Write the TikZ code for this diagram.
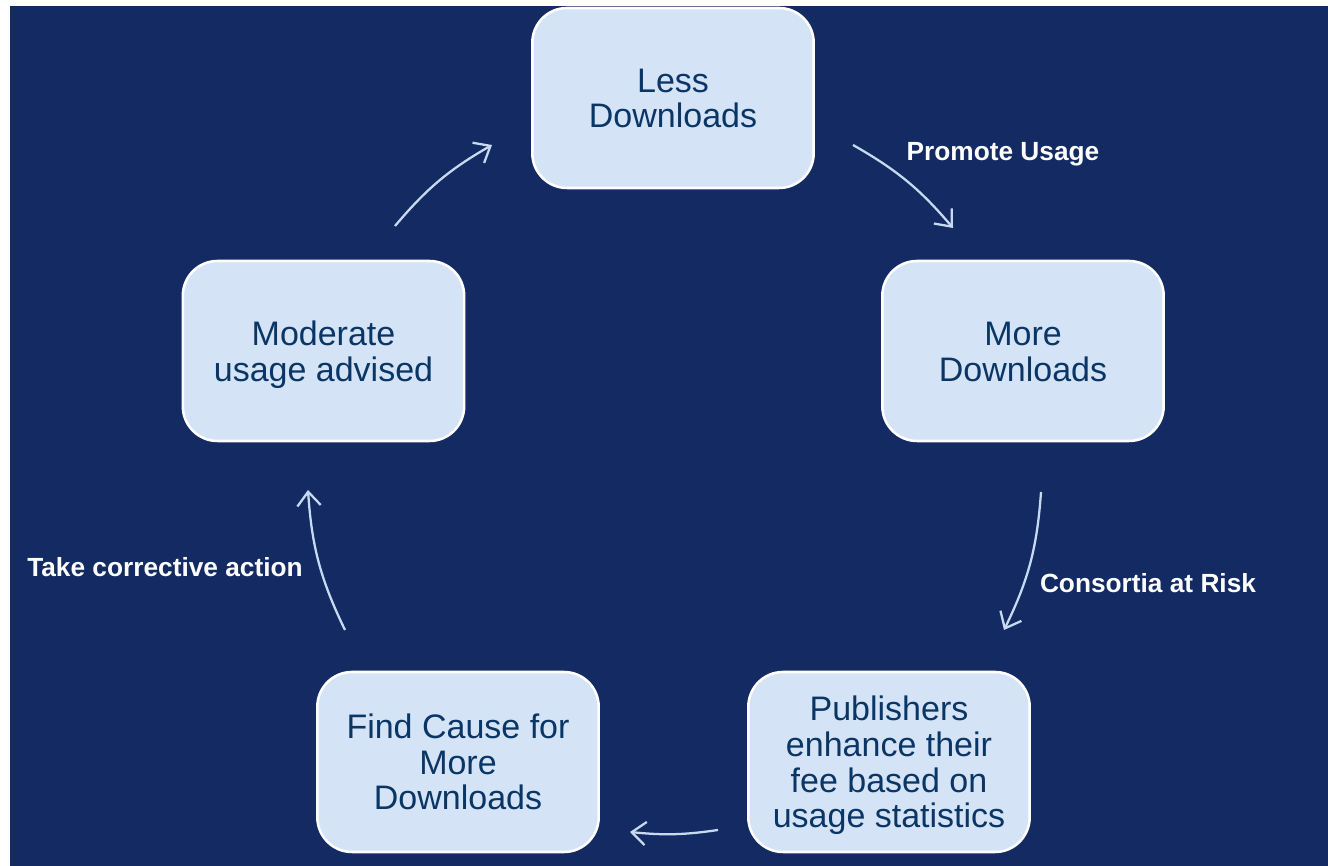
\documentclass[tikz,border=0pt]{standalone}
\usepackage{fontspec}
\setmainfont{Liberation Sans}
\usetikzlibrary{arrows.meta}
\definecolor{bgnavy}{RGB}{19,42,98}
\definecolor{boxfill}{RGB}{213,227,247}
\definecolor{boxtext}{RGB}{10,54,102}
\definecolor{arrowcol}{RGB}{200,218,242}
\newcommand{\cyctext}[1]{\raisebox{0pt}[\dimexpr\height+7.5pt\relax][\depth]{\begin{tabular}{@{}c@{}}#1\end{tabular}}}
\tikzset{
  cyclebox/.style={draw=white, line width=1.9pt, fill=boxfill, rounded corners=26pt,
    minimum width=211pt, minimum height=135pt, text=boxtext,
    font=\fontsize{25.5}{26.8}\selectfont, inner sep=0pt},
  cyclelabel/.style={text=white, font=\fontsize{19.7}{22}\selectfont\bfseries, inner sep=0pt},
  cyclearrow/.style={draw=arrowcol, line width=1.7pt,
    -{Straight Barb[length=10.5pt,width=17.5pt,line width=1.7pt]}},
}
\begin{document}
\begin{tikzpicture}[x=0.75pt,y=0.75pt]
\useasboundingbox (0,0) rectangle (1328,866);
\fill[bgnavy] (10,0) rectangle (1328,860);
% boxes
\node[cyclebox] (less) at (673,768) {\cyctext{Less\\Downloads}};
\node[cyclebox] (more) at (1023,515) {\cyctext{More\\Downloads}};
\node[cyclebox] (pub) at (889,104) {\cyctext{Publishers\\enhance their\\fee based on\\usage statistics}};
\node[cyclebox] (find) at (458,104) {\cyctext{Find Cause for\\More\\Downloads}};
\node[cyclebox] (mod) at (323.5,515) {\cyctext{Moderate\\usage advised}};
% labels
\node[cyclelabel] (lpromote) at (1003,712) {Promote Usage};
\node[cyclelabel] (lconsort) at (1148,283) {Consortia at Risk};
\node[cyclelabel] (ltake) at (165,299) {Take corrective action};
% arrow end points
\coordinate (a1s) at (853,721);
\coordinate (a1e) at (953,638);
\coordinate (a2s) at (1041,374);
\coordinate (a2e) at (1004,236);
\coordinate (a3s) at (718,36);
\coordinate (a3e) at (630,34);
\coordinate (a4s) at (345,236);
\coordinate (a4e) at (308,376);
\coordinate (a5s) at (395,640);
\coordinate (a5e) at (492,721);
\draw[cyclearrow] (a1s) to[bend left=10] (a1e);
\draw[cyclearrow] (a2s) to[bend left=11] (a2e);
\draw[cyclearrow] (a3s) to[bend left=7] (a3e);
\draw[cyclearrow] (a4s) to[bend left=11] (a4e);
\draw[cyclearrow] (a5s) to[bend left=10] (a5e);
\end{tikzpicture}
\end{document}
